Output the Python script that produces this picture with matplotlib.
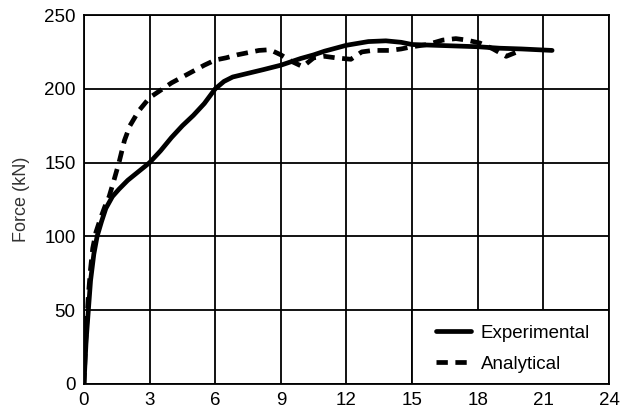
import matplotlib
matplotlib.use("Agg")
import matplotlib.pyplot as plt
from matplotlib.patches import Rectangle

plt.rcParams['font.family'] = ['Liberation Sans', 'DejaVu Sans']

# ===== Данные =====
exp_x = [0, 0.05, 0.1, 0.2, 0.3, 0.45, 0.6, 0.8, 1.0, 1.3, 1.6, 2.0, 2.5, 3.0,
         3.5, 4.0, 4.5, 5.0, 5.5, 6.0, 6.4, 6.8, 7.5, 8.2, 9.0, 9.9, 10.5, 11.0,
         12.0, 13.0, 13.8, 14.5, 15.0, 16.0, 17.0, 18.0, 19.0, 20.0, 21.4]
exp_y = [0, 15, 30, 50, 70, 88, 100, 110, 119, 127, 132, 138, 144, 150,
         158, 167, 175, 182, 190, 200, 205, 208, 210.5, 213, 216, 220.5, 223, 225.5,
         229.5, 232, 232.5, 231.5, 230, 229.5, 229, 228.5, 227.5, 227, 226]

ana_x = [0, 0.05, 0.12, 0.2, 0.3, 0.4, 0.55, 0.75, 0.95, 1.15, 1.35, 1.6, 1.85,
         2.1, 2.5, 3.0, 3.4, 4.0, 4.5, 5.0, 5.5, 6.0, 6.5, 7.0, 7.5, 8.0, 8.5,
         9.0, 9.5, 10.0, 10.5, 11.0, 11.5, 12.2, 12.7, 13.2, 14.0, 14.5, 15.0,
         15.7, 16.4, 17.0, 17.5, 18.1, 18.7, 19.3, 19.8]
ana_y = [0, 20, 40, 60, 78, 92, 103, 112, 120, 127, 137, 150, 165,
         175, 185, 194, 198, 204, 208, 212, 216, 219.5, 221, 223, 224.5, 226, 226.5,
         223, 218.5, 215, 221, 222, 221, 220, 225, 226, 226, 227, 228.5,
         230, 233, 234, 233, 231, 227, 222, 225]

x_ticks = [0, 3, 6, 9, 12, 15, 18, 21, 24]
y_ticks = [0, 50, 100, 150, 200, 250]

fig = plt.figure(figsize=(6.31, 4.11), dpi=100)
ax = fig.add_axes([0.1331, 0.0657, 0.8320, 0.8978])

ax.plot(exp_x, exp_y, color='black', linewidth=3.4, solid_capstyle='round',
        solid_joinstyle='round', label='Experimental', zorder=3)
ax.plot(ana_x, ana_y, color='black', linewidth=3.4, linestyle=(0, (2.4, 1.6)),
        label='Analytical', zorder=3)

ax.set_xlim(0, 24)
ax.set_ylim(0, 250)
ax.set_xticks(x_ticks)
ax.set_yticks(y_ticks)
ax.tick_params(length=0, labelsize=13.5, pad=6)
ax.grid(True, color='black', linewidth=1.3)
ax.set_axisbelow(True)
for s in ax.spines.values():
    s.set_linewidth(1.3)

ax.set_ylabel("Force (kN)", fontsize=13, color='#333333', labelpad=10)

# белая подложка под легенду
ax.add_patch(Rectangle((15, 0), 9, 50, facecolor='white', edgecolor='black',
                       linewidth=1.3, zorder=1))
ax.legend(loc='center', bbox_to_anchor=(19.6, 24), bbox_transform=ax.transData,
          frameon=False, fontsize=13.5, handlelength=1.9, handletextpad=0.5,
          labelspacing=0.75, borderpad=0)

fig.savefig("out.png", dpi=100)
